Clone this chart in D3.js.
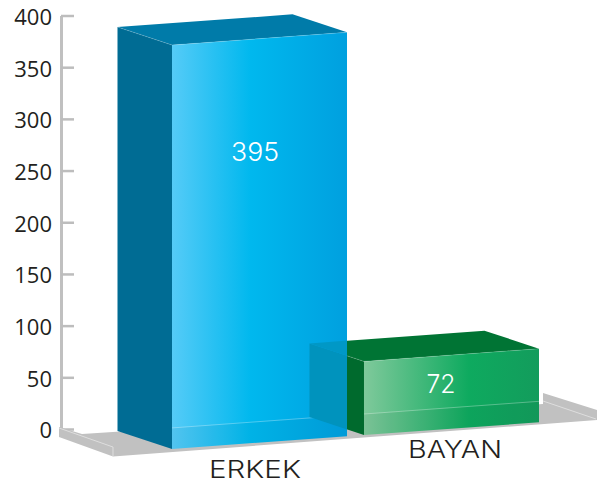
<!DOCTYPE html>
<html><head><meta charset="utf-8">
<style>html,body{margin:0;padding:0;background:#fff}svg{display:block}</style>
<script src="https://cdn.jsdelivr.net/npm/d3@7/dist/d3.min.js"></script>
</head><body><svg id="c" width="598" height="483"></svg>
<script>
const categories = ["ERKEK", "BAYAN"];
const values = [395, 72];
const axisTicks = [0, 50, 100, 150, 200, 250, 300, 350, 400];

const svg = d3.select("#c");
const y = d3.scaleLinear().domain([0, 400]).range([429, 15.5]);
const h = d3.scaleLinear().domain([0, 400]).range([0, 409]);
const x = d3.scaleBand().domain(categories).range([172, 539]).paddingInner(0.0885);
const slope = 0.0725, dx = -54.5, dy = -18;
const base = px => 449 - slope * (px - 171);
const pts = a => a.map(p => p.join(",")).join(" ");

const defs = svg.append("defs");
function grad(id, stops) {
  const g = defs.append("linearGradient").attr("id", id);
  stops.forEach(s => g.append("stop").attr("offset", s[0]).attr("stop-color", s[1]));
}
grad("g0", [[0, "#55cbf7"], [0.45, "#00b8ee"], [1, "#00a0df"]]);
grad("g1", [[0, "#7fc99b"], [0.6, "#0eaa5f"], [1, "#139c5c"]]);
const sideCol = ["#006c94", "#006a2d"], topCol = ["#007ba9", "#007434"];

// axis
const axis = d3.axisLeft(y).tickValues(axisTicks).tickSizeInner(-13).tickSizeOuter(0).tickPadding(9);
const ag = svg.append("g").attr("transform", "translate(61,0)").call(axis);
ag.select(".domain").attr("stroke", "#c0c0c0").attr("stroke-width", 3);
ag.selectAll(".tick line").attr("stroke", "#bdbdbd").attr("stroke-width", 2.5);
ag.selectAll("text").attr("font-family", "'Open Sans'").attr("font-size", 22).attr("fill", "#231f20").attr("dy", "0.4em");

// floor
const floor = [[59, 427], [82, 434], [543, 404], [543, 393], [597, 410], [597, 420], [113, 456.5], [59, 437]];
svg.append("polygon").attr("points", pts(floor)).attr("fill", "#c1c1c1");
[[[59, 428], [113, 447], [113, 456]], [[543, 401], [596, 419]]].forEach(l =>
  svg.append("polyline").attr("points", pts(l)).attr("fill", "none").attr("stroke", "#dedede").attr("stroke-width", 1));

function geom(i) {
  const l = x(categories[i]), r = l + x.bandwidth(), H = h(values[i]);
  return { l, r, H, bl: base(l), br: base(r) };
}
function sidePts(g) {
  return [[g.l, g.bl - g.H], [g.l, g.bl], [g.l + dx, g.bl + dy], [g.l + dx, g.bl + dy - g.H]];
}
function topPts(g) {
  return [[g.l, g.bl - g.H], [g.r, g.br - g.H], [g.r + dx, g.br - g.H + dy], [g.l + dx, g.bl - g.H + dy]];
}
function frontPts(g) {
  return [[g.l, g.bl - g.H], [g.r, g.br - g.H], [g.r, g.br], [g.l, g.bl]];
}

// bars, far one first
[1, 0].forEach(i => {
  const g = geom(i);
  svg.append("polygon").attr("points", pts(sidePts(g))).attr("fill", sideCol[i]);
  svg.append("polygon").attr("points", pts(topPts(g))).attr("fill", topCol[i]);
  svg.append("polygon").attr("points", pts(frontPts(g))).attr("fill", `url(#g${i})`);
  // lower strip of the front face
  svg.append("polygon").attr("points", pts([[g.l, g.bl - 21], [g.r, g.br - 21], [g.r, g.br], [g.l, g.bl]]))
    .attr("fill", "#000").attr("opacity", 0.03);
  svg.append("line").attr("x1", g.l).attr("y1", g.bl - 21).attr("x2", g.r).attr("y2", g.br - 21)
    .attr("stroke", "#fff").attr("stroke-opacity", 0.3).attr("stroke-width", 1);
  // light edges
  svg.append("polyline").attr("points", pts([[g.l + dx, g.bl + dy - g.H], [g.l, g.bl - g.H], [g.r, g.br - g.H]]))
    .attr("fill", "none").attr("stroke", "#fff").attr("stroke-opacity", 0.2).attr("stroke-width", 0.8);
});

// far bar seen through the near bar's front face
const g0 = geom(0), g1 = geom(1);
defs.append("clipPath").attr("id", "see").append("polygon").attr("points", pts(frontPts(g0)));
const see = svg.append("g").attr("clip-path", "url(#see)");
see.append("polygon").attr("points", pts(sidePts(g1))).attr("fill", "#0093bd");
see.append("polygon").attr("points", pts(topPts(g1))).attr("fill", "#0098c6");

// texts: the reference face is wider than any installed one, so the width is fitted
const labelPos = [[255, 478], [455, 458]];
const labelWidth = [92, 94];
const valuePos = [[255, 161], [441, 393]];
const valueWidth = [48, 29];
categories.forEach((c, i) => {
  svg.append("text").attr("x", labelPos[i][0]).attr("y", labelPos[i][1]).attr("text-anchor", "middle")
    .attr("textLength", labelWidth[i]).attr("lengthAdjust", "spacingAndGlyphs")
    .attr("font-family", "Inter").attr("font-weight", 300).attr("font-size", 24).attr("fill", "#231f20").text(c);
  svg.append("text").attr("x", valuePos[i][0]).attr("y", valuePos[i][1]).attr("text-anchor", "middle")
    .attr("textLength", valueWidth[i]).attr("lengthAdjust", "spacingAndGlyphs")
    .attr("font-family", "Inter").attr("font-weight", 300).attr("font-size", 26).attr("fill", "#fff").text(values[i]);
});
</script></body></html>
